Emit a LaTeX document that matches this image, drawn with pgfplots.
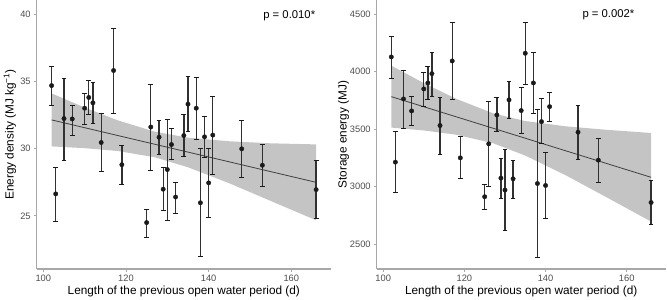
\documentclass[border=0pt]{standalone}
\usepackage{pgfplots}
\pgfplotsset{compat=1.18}
\usepackage{pgfplotstable}
\usepackage{fontspec}
\setmainfont{Liberation Sans}
\definecolor{axgray}{HTML}{A8A8A8}
\definecolor{tickgray}{HTML}{4D4D4D}
\definecolor{bandgray}{HTML}{C4C4C4}
\definecolor{ptcol}{HTML}{1A1A1A}

\pgfplotstableread{
x y top bot
102 34.68 36.1 33.2
103 26.63 28.6 24.6
105 32.23 35.2 29.1
107 32.2 33.2 31.0
110 33.0 34.1 31.8
111 33.8 35.05 32.5
112 33.4 34.9 31.9
114 30.45 32.6 28.3
117 35.8 38.9 32.6
119 28.8 30.2 27.3
125 24.5 25.5 23.4
126 31.6 34.8 28.4
128 30.84 32.1 29.58
129 26.98 28.57 25.4
130 28.44 32.2 24.65
131 30.3 31.5 29.2
132 26.4 27.5 25.2
134 30.97 32.5 29.4
135 33.3 35.35 31.3
137 33.0 35.3 30.7
138 25.97 29.98 21.95
139 30.87 32.4 29.33
140 27.45 30.0 24.85
141 31.0 33.9 28.07
148 29.98 32.06 27.85
153 28.76 30.32 27.2
166 26.95 29.1 24.8
}\energydens

\pgfplotstableread{
x y top bot
102 4126 4308 3941
103 3212 3475 2951
105 3761 4010 3507
107 3657 3787 3527
110 3848 3990 3700
111 3900 4042 3759
112 3981 4169 3787
114 3530 3776 3281
117 4091 4427 3753
119 3249 3434 3069
125 2911 3021 2800
126 3371 3735 3000
128 3622 3770 3477
129 3073 3243 2899
130 2969 3321 2615
131 3753 3917 3588
132 3067 3226 2893
134 3660 3857 3463
135 4158 4424 3891
137 3900 4163 3634
138 3026 3672 2387
139 3564 3761 3371
140 3009 3295 2720
141 3694 3816 3564
148 3472 3707 3232
153 3229 3420 3038
166 2861 3049 2670
}\storage

\pgfplotsset{
  panel/.style={
    scale only axis,
    anchor=south west,
    axis x line*=bottom,
    axis y line*=left,
    axis line style={axgray, line width=1.3pt},
    every tick/.style={axgray, line width=0.8pt},
    tick align=outside,
    major tick length=2.5pt,
    tick label style={font=\fontsize{9.3}{10}\selectfont, text=tickgray},
    label style={font=\fontsize{11.8}{13}\selectfont, text=black},
    /pgf/number format/assume math mode=true,
    /pgf/number format/1000 sep={},
    xmin=98.4, xmax=169.6,
    xtick={100,120,140,160},
    clip=false,
    xlabel={Length of the previous open water period (d)},
    xlabel style={at={(axis description cs:0.5,0)}, anchor=north, yshift=-13pt},
  },
  errs/.style={
    only marks,
    mark=*,
    mark size=2.2pt,
    mark options={fill=ptcol, draw=ptcol},
    error bars/.cd,
      y dir=both, y explicit,
      error bar style={line width=1.35pt, color=ptcol!90!white},
      error mark options={rotate=90, mark size=2.4pt, line width=0.9pt, color=ptcol},
  },
}

\begin{document}
\begin{tikzpicture}[x=1pt,y=1pt]
\path[use as bounding box] (0,0) rectangle (667,300);

\begin{axis}[panel,
  at={(36.7pt,31pt)},
  width=294.3pt, height=269pt,
  ymin=21.05, ymax=41.04,
  ytick={25,30,35,40},
  ylabel={Energy density (MJ kg\textsuperscript{−1})},
  ylabel style={at={(axis description cs:0,0.5)}, anchor=south, yshift=17pt},
]
\addplot[fill=bandgray, draw=none] coordinates {
 (102,34.10) (110,33.05) (118,32.10) (127,31.25) (135,30.81) (145,30.54) (155,30.39) (166,30.31)
 (166,24.67) (155,26.11) (145,27.42) (135,28.61) (127,29.35) (118,29.82) (110,30.03) (102,30.16)
} -- cycle;
\addplot[color=black!75, line width=0.8pt] coordinates {(102,32.13) (166,27.49)};
\addplot[errs] table[x=x, y=y,
  y error plus expr=\thisrow{top}-\thisrow{y},
  y error minus expr=\thisrow{y}-\thisrow{bot}] {\energydens};
\node[anchor=center, font=\fontsize{11.3}{12}\selectfont, text=black] at (axis cs:159.5,39.9) {p = 0.010*};
\end{axis}

\begin{axis}[panel,
  at={(376.7pt,31pt)},
  width=289pt, height=269pt,
  ymin=2283, ymax=4621,
  ytick={2500,3000,3500,4000,4500},
  ylabel={Storage energy (MJ)},
  ylabel style={at={(axis description cs:0,0.5)}, anchor=south, yshift=24pt},
]
\addplot[fill=bandgray, draw=none] coordinates {
 (102,4050) (110,3899) (118,3762) (127,3637) (135,3569) (145,3523) (155,3493) (166,3465)
 (166,2695) (155,2907) (145,3097) (135,3269) (127,3377) (118,3450) (110,3487) (102,3512)
} -- cycle;
\addplot[color=black!75, line width=0.8pt] coordinates {(102,3781) (166,3080)};
\addplot[errs] table[x=x, y=y,
  y error plus expr=\thisrow{top}-\thisrow{y},
  y error minus expr=\thisrow{y}-\thisrow{bot}] {\storage};
\node[anchor=center, font=\fontsize{11.3}{12}\selectfont, text=black] at (axis cs:155.5,4492) {p = 0.002*};
\end{axis}
\end{tikzpicture}
\end{document}
